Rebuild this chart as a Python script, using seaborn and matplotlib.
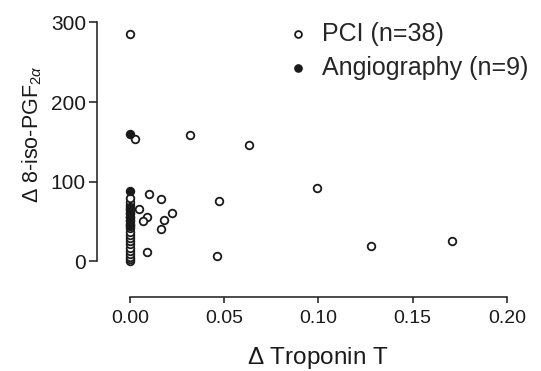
import numpy as np
import pandas as pd
import matplotlib
matplotlib.use("Agg")
import matplotlib.pyplot as plt
import seaborn as sns

# PCI (open circles)
pci_tnt = [0.0, 0.0027, 0.032, 0.063, 0.099, 0.128, 0.171, 0.0103, 0.0163, 0.047,
           0.0046, 0.0092, 0.0067, 0.0223, 0.018, 0.0163, 0.0092, 0.046,
           0, 0, 0, 0, 0, 0, 0, 0, 0, 0, 0, 0, 0, 0, 0, 0, 0, 0, 0, 0]
pci_iso = [285, 153, 158, 146, 92, 19, 25, 84, 78, 75,
           66, 56, 50, 60, 52, 40, 12, 6,
           0, 2, 5, 9, 13, 17, 21, 25, 29, 33, 37, 41, 45, 50, 55, 60, 65, 70, 74, 79]
# Angiography (filled circles)
ang_tnt = [0, 0, 0, 0, 0, 0, 0, 0, 0]
ang_iso = [160, 88, 68, 64, 60, 56, 52, 47, 44]

labels = ["PCI (n=38)", "Angiography (n=9)"]
xticks = [0.00, 0.05, 0.10, 0.15, 0.20]
yticks = [0, 100, 200, 300]

sns.set_style("ticks")
plt.rcParams['font.family'] = ['Liberation Sans', 'DejaVu Sans']
plt.rcParams['mathtext.fontset'] = 'custom'
plt.rcParams['mathtext.rm'] = 'Liberation Sans'
plt.rcParams['mathtext.it'] = 'Liberation Sans:italic'

df_pci = pd.DataFrame({"tnt": pci_tnt, "iso": pci_iso})
df_ang = pd.DataFrame({"tnt": ang_tnt, "iso": ang_iso})

fig = plt.figure(figsize=(5.41, 3.71), dpi=100)
ax = fig.add_axes([0.2194, 0.2792, 0.7351, 0.6709])

sns.scatterplot(data=df_pci, x="tnt", y="iso", ax=ax, s=30, marker="o",
                facecolor="white", edgecolor="#1a1a1a", linewidth=1.3,
                label=labels[0], zorder=3)
sns.scatterplot(data=df_ang, x="tnt", y="iso", ax=ax, s=30, marker="o",
                facecolor="#1a1a1a", edgecolor="#1a1a1a", linewidth=1.3,
                label=labels[1], zorder=4)

ax.set_xlim(-0.006, 0.205)
ax.set_ylim(-8, 305)
ax.set_xticks(xticks)
ax.set_xticklabels([f"{v:.2f}" for v in xticks])
ax.set_yticks(yticks)
ax.set_yticklabels([str(v) for v in yticks])

for s in ["top", "right"]:
    ax.spines[s].set_visible(False)
ax.spines["left"].set_position(("outward", 15.6))
ax.spines["bottom"].set_position(("outward", 21.1))
ax.spines["left"].set_bounds(0, 300)
ax.spines["bottom"].set_bounds(0, 0.20)
for s in ["left", "bottom"]:
    ax.spines[s].set_linewidth(1.1)
    ax.spines[s].set_color("#1a1a1a")

ax.tick_params(axis="y", length=6, width=1.1, pad=2, labelsize=15, colors="#1a1a1a")
ax.tick_params(axis="x", length=4.5, width=1.1, pad=5, labelsize=14, colors="#1a1a1a")

ax.set_xlabel(r"$\Delta$ Troponin T", fontsize=17.5, labelpad=13, color="#1a1a1a")
ax.set_ylabel(r"$\Delta$ 8-iso-PGF$_{2\alpha}$", fontsize=15.5, labelpad=5, color="#1a1a1a")
ax.yaxis.label.set_y(0.535)

leg = ax.legend(loc="upper left", bbox_to_anchor=(285 / 541, 1 - 22 / 371),
                bbox_transform=fig.transFigure, frameon=False, fontsize=18,
                handlelength=1.0, handletextpad=0.5, labelspacing=0.38,
                borderpad=0, borderaxespad=0, markerscale=0.9)

fig.savefig("out.png", dpi=100)
